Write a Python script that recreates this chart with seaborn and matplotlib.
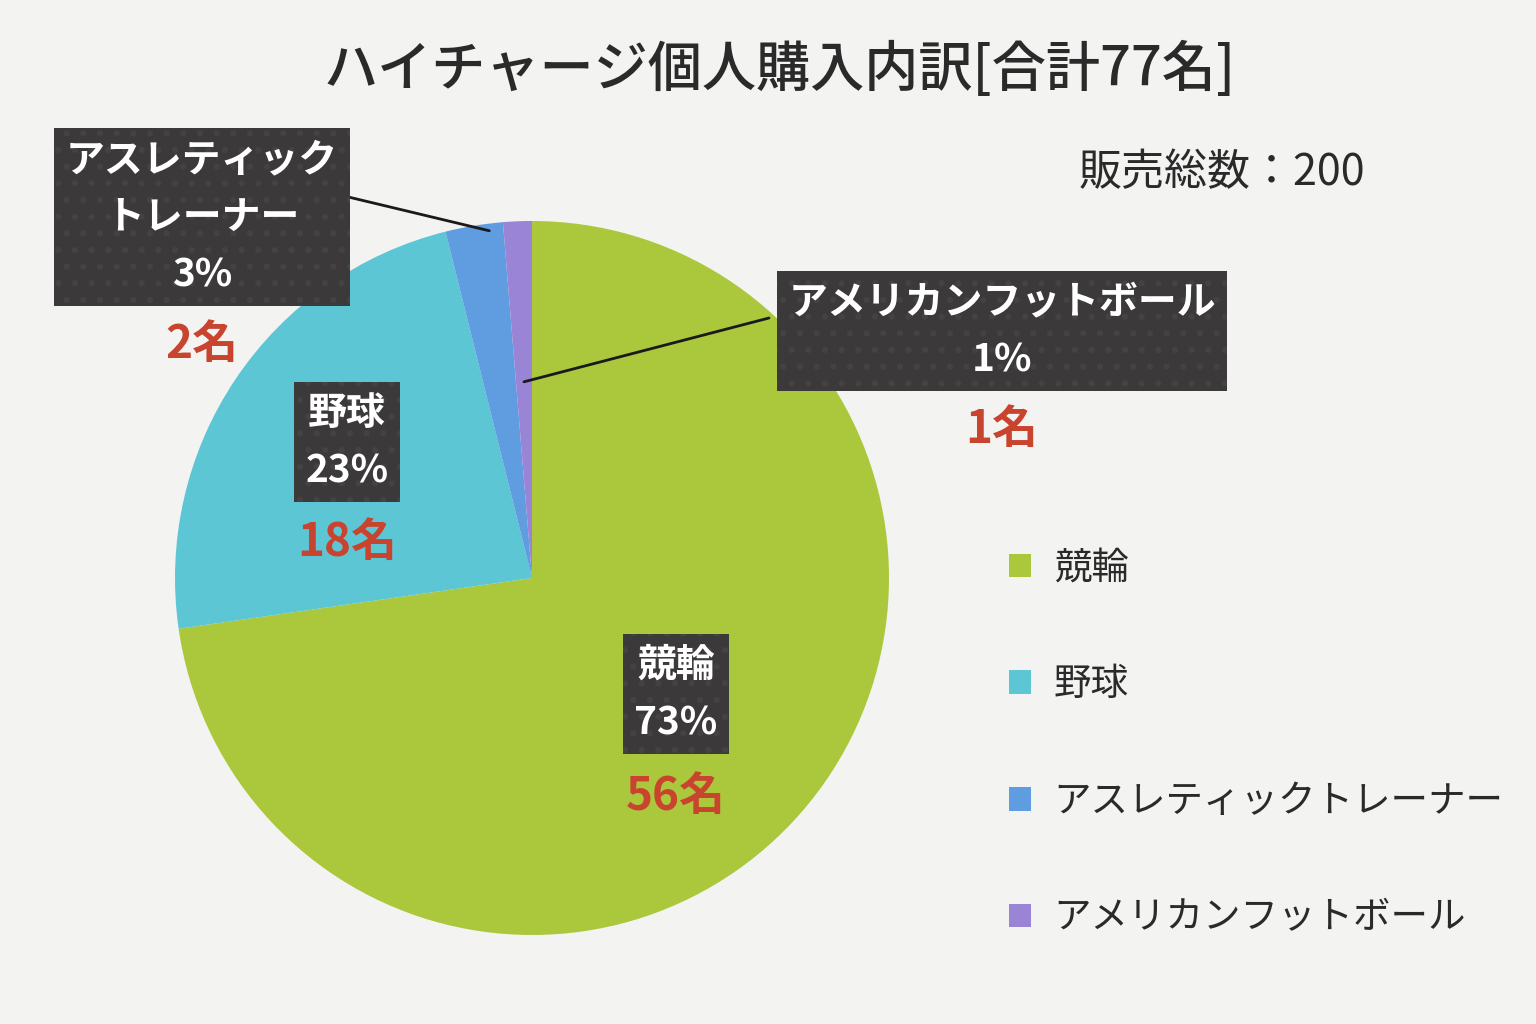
import numpy as np
import pandas as pd
import matplotlib.pyplot as plt
import seaborn as sns

sports = ['競輪', '野球', 'アスレティックトレーナー', 'アメリカンフットボール']
box_names = ['競輪', '野球', 'アスレティック\nトレーナー', 'アメリカンフットボール']
counts = [56, 18, 2, 1]
colors = ['#abc83c', '#5cc6d4', '#5f9de0', '#9a84d6']
total_sold = 200

df = pd.DataFrame({'sport': sports, 'count': counts, 'color': colors})
df['pct'] = (df['count'] / df['count'].sum() * 100).round().astype(int)

sns.set_style('white')
plt.rcParams['font.family'] = ['Noto Sans CJK JP', 'DejaVu Sans']
plt.rcParams['hatch.linewidth'] = 2.0

W, H = 1536, 1024
fig = plt.figure(figsize=(W / 100, H / 100), dpi=100)
fig.patch.set_facecolor('#f3f3f2')
ax = fig.add_axes([0, 0, 1, 1])
ax.set_facecolor('#f3f3f2')

cx, cy, R = 532, H - 578, 357
wedges, _ = ax.pie(df['count'], colors=df['color'], startangle=90, counterclock=False,
                   center=(cx, cy), radius=R, wedgeprops=dict(linewidth=0))
ax.set_xlim(0, W)
ax.set_ylim(0, H)
ax.set_aspect('equal')
ax.axis('off')

box_style = dict(boxstyle='square,pad=0.3', facecolor='#3b3939', edgecolor='#444242',
                 linewidth=0, hatch='.')
red = '#c9442f'

# label placement (figure pixels, y from top): text centre, count position
label_pos = [(676, 694, 797), (347, 442, 543), (202, 217, 345), (1002, 331, 430)]
leader = [None, None, (340, 195, 0.98, 0.75), (769, 318, 0.55, 0.5)]

for i, row in df.iterrows():
    x, ty, ry = label_pos[i]
    ax.text(x, H - ty, f"{box_names[i]}\n{row['pct']}%", ha='center', va='center',
            fontsize=28, fontweight='bold', color='white', linespacing=1.6,
            bbox=box_style, zorder=5)
    ax.text(x, H - ry, f"{row['count']}名", ha='center', va='center',
            fontsize=33, fontweight='bold', color=red, zorder=5)
    if leader[i] is not None:
        lx, ly, rf, af = leader[i]
        w = wedges[i]
        ang = np.deg2rad(w.theta2 + (w.theta1 - w.theta2) * af)
        ex, ey = cx + R * rf * np.cos(ang), cy + R * rf * np.sin(ang)
        ax.plot([lx, ex], [H - ly, ey], color='#1a1a1a', lw=2, zorder=4)

ax.text(780, H - 70, 'ハイチャージ個人購入内訳[合計77名]', ha='center', va='center',
        fontsize=39, fontweight='medium', color='#2a2a2a')
ax.text(1365, H - 173, f'販売総数：{total_sold}', ha='right', va='center',
        fontsize=31, color='#2a2a2a')

leg = ax.legend(wedges, sports, loc='upper left', bbox_to_anchor=(975 / W, 1 - 515 / H),
                frameon=False, fontsize=27, handlelength=0.6, handleheight=0.6,
                handletextpad=0.6, labelspacing=2.07, labelcolor='#2a2a2a')

plt.savefig('out.png', dpi=100, facecolor=fig.get_facecolor())
